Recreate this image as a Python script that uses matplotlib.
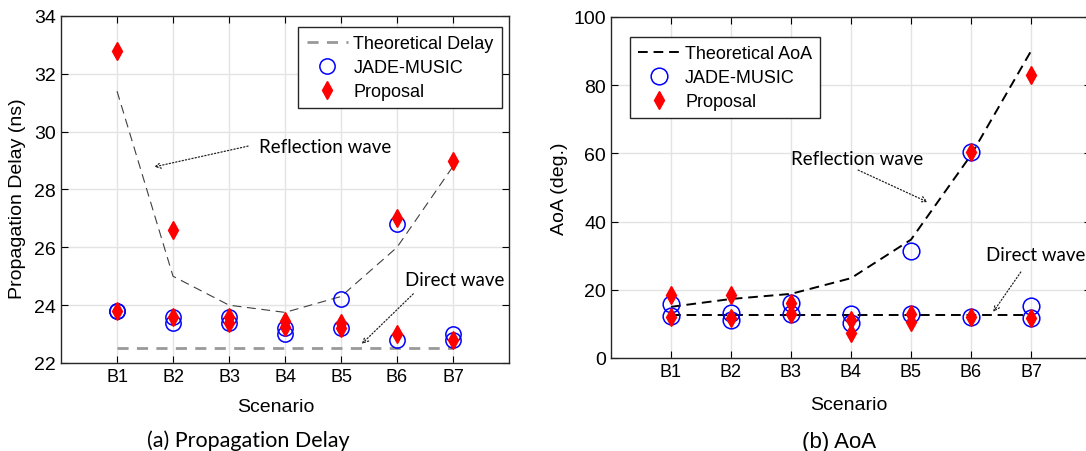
import numpy as np
import matplotlib
matplotlib.use('Agg')
import matplotlib.pyplot as plt
from matplotlib import font_manager

scen = ['B1', 'B2', 'B3', 'B4', 'B5', 'B6', 'B7']

# (a) propagation delay [ns]
delay_refl = [31.4, 25.0, 24.0, 23.75, 24.3, 26.0, 28.8]
delay_dir = [22.53, 22.53, 22.53, 22.53, 22.53, 22.53, 22.53]
jade_delay_1 = [23.8, 23.6, 23.6, 23.2, 24.2, 26.8, 23.0]
jade_delay_2 = [23.8, 23.4, 23.4, 23.0, 23.2, 22.8, 22.8]
prop_delay_1 = [32.8, 26.6, 23.6, 23.45, 23.4, 27.0, 29.0]
prop_delay_2 = [23.8, 23.6, 23.4, 23.25, 23.2, 23.0, 22.8]

# (b) AoA [deg]
aoa_refl = [15.0, 17.3, 18.8, 23.4, 34.7, 59.5, 90.0]
aoa_dir = [12.5, 12.5, 12.5, 12.5, 12.5, 12.5, 12.5]
jade_aoa_1 = [15.8, 13.1, 16.1, 12.9, 31.5, 60.3, 15.1]
jade_aoa_2 = [12.4, 11.2, 12.9, 10.3, 12.9, 11.9, 11.8]
prop_aoa_1 = [18.6, 18.6, 16.1, 11.2, 12.9, 60.5, 83.0]
prop_aoa_2 = [11.9, 11.6, 12.9, 7.2, 10.6, 11.9, 11.8]

names = {f.name for f in font_manager.fontManager.ttflist}
narrow = 'Liberation Sans Narrow' if 'Liberation Sans Narrow' in names else 'Liberation Sans'
plt.rcParams['font.family'] = ['Liberation Sans', 'DejaVu Sans']
cal = ['Lato', 'DejaVu Sans']

x = np.arange(1, 8)
fig = plt.figure(figsize=(10.86, 4.52), dpi=100)
ax1 = fig.add_axes([0.0562, 0.1947, 0.4125, 0.7677])
ax2 = fig.add_axes([0.5626, 0.2058, 0.442, 0.7544])

for a in (ax1, ax2):
    a.set_xlim(0, 8)
    a.set_xticks(x)
    a.set_xticklabels(scen, fontsize=13)
    a.grid(True, color='#e3e3e3', linewidth=1)
    a.set_axisbelow(True)
    a.tick_params(direction='in', top=True, right=True, length=5, width=0.8)
    for s in a.spines.values():
        s.set_linewidth(1.0)
        s.set_color('#262626')

legkw = dict(fontsize=13, handlelength=2.3, handletextpad=0.3, borderpad=0.45,
             labelspacing=0.38, fancybox=False, framealpha=1, edgecolor='#262626',
             borderaxespad=0)

# ---- (a)
ax1.plot(x, delay_refl, color='#404040', linestyle=(0, (8, 5)), linewidth=0.8)
ax1.plot(x, delay_dir, color='#999999', linestyle=(0, (4, 3)), linewidth=2, label='Theoretical Delay')
ax1.plot(x, jade_delay_1, 'o', mfc='none', mec='blue', ms=11, mew=1.1, label='JADE-MUSIC')
ax1.plot(x, jade_delay_2, 'o', mfc='none', mec='blue', ms=11, mew=1.1)
ax1.plot(x, prop_delay_1, 'd', color='red', ms=9, label='Proposal')
ax1.plot(x, prop_delay_2, 'd', color='red', ms=9)
ax1.set_ylim(22, 34)
ax1.set_yticks(np.arange(22, 35, 2))
for t in ax1.get_yticklabels():
    t.set_fontfamily(narrow)
    t.set_fontsize(14)
leg = ax1.legend(loc='upper right', bbox_to_anchor=(0.984, 0.968), **legkw)
leg.get_frame().set_linewidth(1.0)

arr = dict(arrowstyle='->', linestyle=':', linewidth=0.9, color='#202020', shrinkA=0, shrinkB=0)
ax1.annotate('', xy=(1.66, 28.78), xytext=(3.34, 29.5), arrowprops=arr)
ax1.text(3.54, 29.47, 'Reflection wave', fontsize=13.5, family=cal, va='center')
ax1.annotate('', xy=(5.37, 22.66), xytext=(6.29, 24.39), arrowprops=arr)
ax1.text(6.14, 24.9, 'Direct wave', fontsize=13.5, family=cal, va='center')

# ---- (b)
ax2.plot(x, aoa_refl, color='black', linestyle=(0, (5, 3)), linewidth=1.4, label='Theoretical AoA')
ax2.plot(x, aoa_dir, color='black', linestyle=(0, (5, 3)), linewidth=1.4)
ax2.plot(x, jade_aoa_1, 'o', mfc='none', mec='blue', ms=12, mew=1.1, label='JADE-MUSIC')
ax2.plot(x, jade_aoa_2, 'o', mfc='none', mec='blue', ms=12, mew=1.1)
ax2.plot(x, prop_aoa_1, 'd', color='red', ms=9, label='Proposal')
ax2.plot(x, prop_aoa_2, 'd', color='red', ms=9)
ax2.set_ylim(0, 100)
ax2.set_yticks(np.arange(0, 101, 20))
ax2.tick_params(axis='y', labelsize=14)
ax2.set_ylabel('AoA (deg.)', fontsize=14, labelpad=4)
leg2 = ax2.legend(loc='upper left', bbox_to_anchor=(0.0396, 0.941), **legkw)
leg2.get_frame().set_linewidth(1.0)

ax2.annotate('', xy=(5.28, 45.7), xytext=(4.12, 55.1), arrowprops=arr)
ax2.text(3.0, 58.6, 'Reflection wave', fontsize=13.5, family=cal, va='center')
ax2.annotate('', xy=(6.37, 13.5), xytext=(6.83, 25.2), arrowprops=arr)
ax2.text(6.25, 30.2, 'Direct wave', fontsize=13.5, family=cal, va='center')

fig.text(0.0157, 0.56, 'Propagation Delay (ns)', fontsize=14, rotation=90, ha='center', va='center')
fig.text(0.254, 0.099, 'Scenario', fontsize=14, ha='center', va='center')
fig.text(0.229, 0.024, '(a) Propagation Delay', fontsize=15.5, family=cal, ha='center', va='center')
fig.text(0.782, 0.102, 'Scenario', fontsize=14, ha='center', va='center')
fig.text(0.773, 0.022, '(b) AoA', fontsize=16, ha='center', va='center')

fig.savefig('out.png', dpi=100)
